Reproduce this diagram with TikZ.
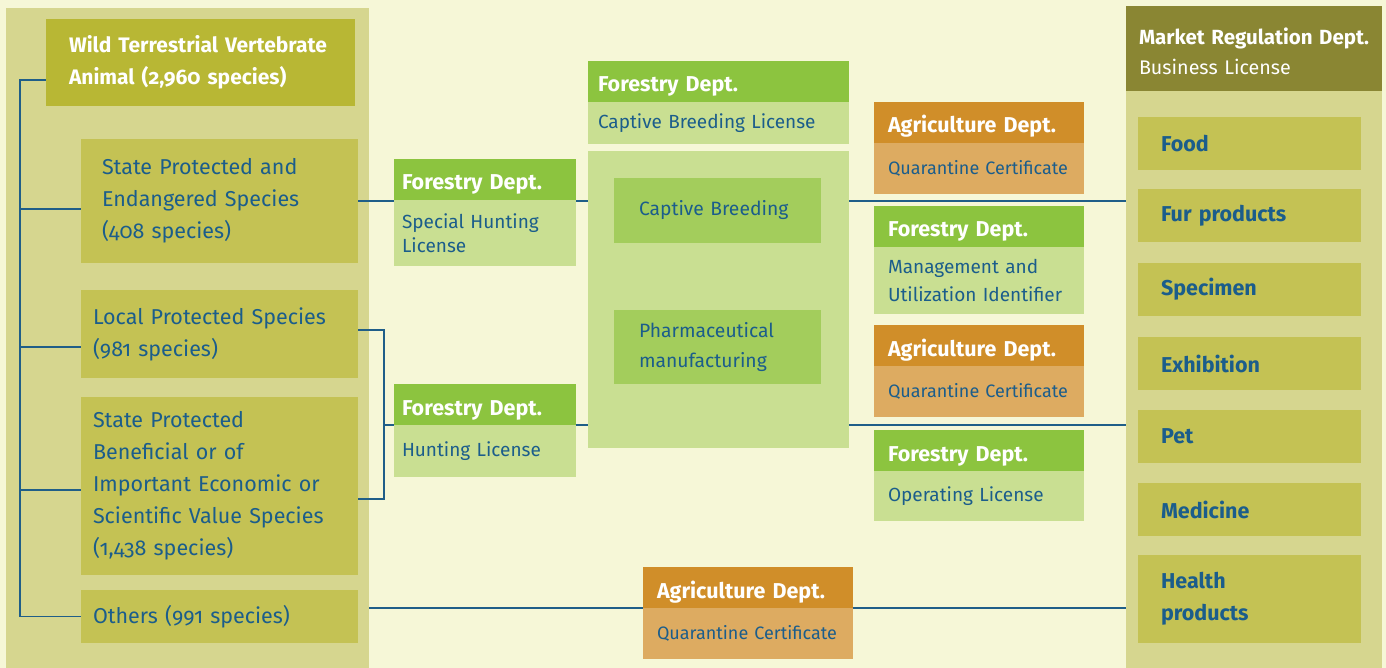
\documentclass[tikz,border=0pt]{standalone}
\usepackage{fontspec}
\setmainfont{Fira Sans}[Numbers=OldStyle]
\usetikzlibrary{positioning}
\definecolor{bgcream}{HTML}{F6F7D7}
\definecolor{panelcol}{HTML}{D6D68F}
\definecolor{ttlcol}{HTML}{B8B734}
\definecolor{spccol}{HTML}{C4C254}
\definecolor{mktcol}{HTML}{8A8633}
\definecolor{forgreen}{HTML}{8CC43F}
\definecolor{forlight}{HTML}{C9DF92}
\definecolor{inngreen}{HTML}{A3CD5C}
\definecolor{agrorange}{HTML}{D08E29}
\definecolor{agrlight}{HTML}{DDAB61}
\definecolor{txtblue}{HTML}{1B5D8B}
\definecolor{linecol}{HTML}{1F5E88}
\newcommand\spfont{\fontsize{21.5}{32}\selectfont}
\newcommand\headfont{\bfseries\fontsize{21.5}{22}\selectfont}
\newcommand\bodyfont{\fontsize{19}{26}\selectfont}
\newcommand\itemfont{\bfseries\fontsize{21.5}{32}\selectfont}
\newcommand\ttlfont{\bfseries\fontsize{21}{32}\selectfont}
\pgfdeclarelayer{back}
\pgfdeclarelayer{lines}
\pgfsetlayers{back,lines,main}
\tikzset{
  every node/.style={anchor=north west, inner ysep=0pt, outer sep=0pt, align=left, text=txtblue},
  wleft/.style={minimum width=182pt, inner xsep=8pt, text width=166pt},
  wtop/.style={minimum width=261pt, inner xsep=10pt, text width=241pt},
  wright/.style={minimum width=210pt, inner xsep=14pt, text width=182pt},
  fhead/.style={fill=forgreen, text=white, minimum height=41pt, text height=21pt, text depth=0pt, font=\headfont},
  ahead/.style={fill=agrorange, text=white, minimum height=41pt, text height=21pt, text depth=0pt, font=\headfont},
  fbody/.style={fill=forlight, font=\bodyfont},
  abody/.style={fill=agrlight, font=\fontsize{18}{26}\selectfont},
  spc/.style={fill=spccol, minimum width=277pt, inner xsep=12pt, text width=253pt, font=\spfont},
  item/.style={fill=spccol, minimum width=223pt, minimum height=53pt, inner xsep=23pt, text width=177pt, font=\itemfont},
  inbox/.style={fill=inngreen, minimum width=207pt, inner xsep=25pt, text width=157pt, font=\fontsize{19.3}{30}\selectfont},
  link/.style={draw=linecol, line width=1.5pt}
}
\begin{document}
\begin{tikzpicture}[x=1pt, y=-1pt]
  \begin{pgfonlayer}{back}
    \fill[bgcream] (0,0) rectangle (1386,668);
    \node[fill=panelcol, minimum width=363pt, minimum height=660pt] (lpanel) at (6,8) {};
    \node[fill=panelcol, minimum width=256pt, minimum height=662pt] (mkt) at (1126,6) {};
  \end{pgfonlayer}
  \useasboundingbox (0,0) rectangle (1386,668);

  \node[fill=ttlcol, text=white, minimum width=309pt, minimum height=87pt, inner xsep=23pt, text width=263pt, font=\ttlfont] (ttl) at (46,19) {Wild Terrestrial Vertebrate\\Animal (2,960 species)};
  \node[spc, minimum height=124pt, inner xsep=21pt, text width=235pt] (sp1) at (81,139) {State Protected and\\Endangered Species\\(408 species)};
  \node[spc, minimum height=88pt] (sp2) at (81,290) {Local Protected Species\\(981 species)};
  \node[spc, minimum height=178pt] (sp3) at (81,397) {State Protected\\Beneficial or of\\Important Economic or\\Scientific Value Species\\(1,438 species)};
  \node[spc, minimum height=53pt] (oth) at (81,590) {Others (991 species)};

  \node[fhead, wleft] (shh) at (394,159) {Forestry Dept.};
  \node[fbody, wleft, minimum height=66pt, font=\fontsize{19}{24}\selectfont, below=0pt of shh] (shb) {Special Hunting\\License};
  \node[fhead, wleft] (hlh) at (394,384) {Forestry Dept.};
  \node[fbody, wleft, minimum height=52pt, below=0pt of hlh] (hlb) {Hunting License};

  \node[fhead, wtop] (cbh) at (588,61) {Forestry Dept.};
  \node[fbody, wtop, minimum height=42pt, below=0pt of cbh] (cbb) {Captive Breeding License};
  \node[fill=forlight, minimum width=261pt, minimum height=297pt] (ctr) at (588,151) {};
  \node[inbox, minimum height=65pt] (brd) at (614,178) {Captive Breeding};
  \node[inbox, minimum height=74pt] (phm) at (614,310) {Pharmaceutical\\manufacturing};

  \node[ahead, wright] (aq1h) at (874,102) {Agriculture Dept.};
  \node[abody, wright, minimum height=51pt, below=0pt of aq1h] (aq1b) {Quarantine Certificate};
  \node[fhead, wright] (muh) at (874,206) {Forestry Dept.};
  \node[fbody, wright, minimum height=67pt, font=\fontsize{19}{28}\selectfont, below=0pt of muh] (mub) {Management and\\Utilization Identifier};
  \node[ahead, wright] (aq2h) at (874,325) {Agriculture Dept.};
  \node[abody, wright, minimum height=51pt, below=0pt of aq2h] (aq2b) {Quarantine Certificate};
  \node[fhead, wright] (olh) at (874,430) {Forestry Dept.};
  \node[fbody, wright, minimum height=50pt, below=0pt of olh] (olb) {Operating License};

  \node[ahead, wright] (aq3h) at (643,567) {Agriculture Dept.};
  \node[abody, wright, minimum height=51pt, below=0pt of aq3h] (aq3b) {Quarantine Certificate};

  \node[fill=mktcol, text=white, minimum width=256pt, minimum height=85pt, inner xsep=13pt, text width=230pt, text height=23pt, font=\fontsize{19.7}{30}\selectfont] (mkth) at (1126,6) {{\bfseries\fontsize{20.5}{30}\selectfont\makebox[0pt][l]{Market Regulation Dept.}}\\Business License};
  \node[item] (food) at (1138,117) {Food};
  \node[item] (fur) at (1138,189) {Fur products};
  \node[item] (spm) at (1138,263) {Specimen};
  \node[item] (exh) at (1138,337) {Exhibition};
  \node[item] (pet) at (1138,410) {Pet};
  \node[item] (med) at (1138,483) {Medicine};
  \node[item, minimum height=88pt] (hlt) at (1138,555) {Health\\products};

  \begin{pgfonlayer}{lines}
    \coordinate (trunk) at (20,0);
    \coordinate (brk) at (384,0);
    \draw[link] ([yshift=-17.5pt]ttl.west) -- ([yshift=-17.5pt]ttl.west -| trunk) |- (oth.west);
    \foreach \n/\s in {sp1/-8,sp2/-13,sp3/-4}
      \draw[link] ([yshift=\s pt]\n.west) -- ([yshift=\s pt]\n.west -| trunk);
    \draw[link] (sp1.east) -- (sp1.east -| mkt.west);
    \draw[link] ([yshift=4pt]sp2.east) -| (brk |- hlh.south) |- ([yshift=-13pt]sp3.east);
    \draw[link] (brk |- hlh.south) -- (mkt.west |- hlh.south);
    \draw[link] (lpanel.east |- aq3h.south) -- (mkt.west |- aq3h.south);
  \end{pgfonlayer}
\end{tikzpicture}
\end{document}
